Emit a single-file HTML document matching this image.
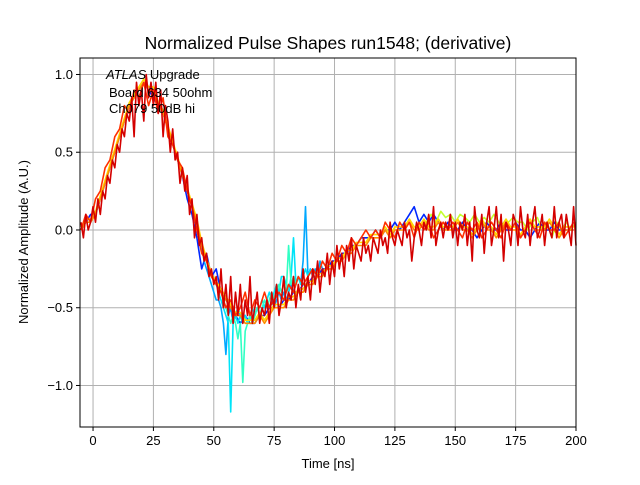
<!DOCTYPE html>
<html><head><meta charset="utf-8"><style>
body{margin:0;background:#fff}
svg{font-family:"Liberation Sans","DejaVu Sans",sans-serif}
</style></head><body>
<svg id="c" width="640" height="480">
<rect width="640" height="480" fill="#fff"/>
<text x="328" y="49" text-anchor="middle" font-size="17.5">Normalized Pulse Shapes run1548; (derivative)</text>
<text x="328" y="468" text-anchor="middle" font-size="13">Time [ns]</text>
<text transform="translate(28,242) rotate(-90)" text-anchor="middle" font-size="13">Normalized Amplitude (A.U.)</text>
<g id="grid"></g><g id="series"></g><g id="ticks"></g>
<rect x="80" y="58" width="496" height="369" fill="none" stroke="#000" stroke-width="1"/>
<g font-size="13">
<text x="106" y="79"><tspan font-style="italic">ATLAS</tspan> Upgrade</text>
<text x="109" y="97">Board 634 50ohm</text>
<text x="109" y="113">Ch079 50dB hi</text>
</g>
</svg>
<script>
const xTicks=[0,25,50,75,100,125,150,175,200];
const yTicks=[-1.0,-0.5,0.0,0.5,1.0];
const redX0=-5, redStep=1;
const redVals=[0.05,-0.05,0.1,0,0.05,0.15,0.05,0.2,0.1,0.25,0.2,0.35,0.3,0.45,0.4,0.55,0.5,0.65,0.6,0.75,0.7,0.85,0.6,0.95,0.8,0.9,0.7,1.0,0.85,0.95,0.8,0.95,0.75,0.9,0.6,0.8,0.7,0.5,0.65,0.45,0.5,0.3,0.4,0.25,0.35,0.1,0.2,-0.05,0.1,-0.1,-0.05,-0.2,-0.15,-0.3,-0.25,-0.35,-0.3,-0.45,-0.25,-0.5,-0.35,-0.55,-0.3,-0.6,-0.4,-0.55,-0.35,-0.6,-0.45,-0.55,-0.3,-0.6,-0.5,-0.4,-0.6,-0.5,-0.55,-0.45,-0.6,-0.4,-0.5,-0.35,-0.55,-0.45,-0.3,-0.5,-0.4,-0.45,-0.3,-0.5,-0.35,-0.45,-0.25,-0.4,-0.3,-0.45,-0.25,-0.35,-0.2,-0.4,-0.25,-0.3,-0.15,-0.35,-0.2,-0.3,-0.1,-0.25,-0.15,-0.3,-0.1,-0.2,-0.05,-0.25,-0.1,-0.15,-0.2,-0.05,-0.15,-0.1,-0.2,-0.05,-0.1,-0.15,0,-0.1,-0.05,-0.15,0.05,-0.05,-0.1,0,-0.05,-0.1,0.05,-0.05,0,-0.2,-0.05,0.05,0,-0.1,0.05,0,0.1,-0.05,0.15,-0.1,0,0.05,-0.05,0.05,0,0.1,-0.05,0.05,-0.1,0.05,0,0.1,-0.1,0.05,-0.2,0.15,0,-0.05,0.1,-0.15,0.05,0.15,-0.1,0,0.15,-0.05,0.1,-0.2,0.05,0,-0.1,0.1,0.05,-0.1,0.15,0,-0.05,0.1,-0.1,0.05,0.15,-0.05,0,0.1,-0.1,0.05,0,-0.05,0.15,-0.05,0.05,0.1,-0.05,0.1,0,-0.1,0.15,-0.1];
const orangeX0=-5, orangeStep=2;
const orangeVals=[0,0.05,0.05,0.1,0.2,0.3,0.4,0.5,0.6,0.7,0.8,0.85,0.9,0.95,0.9,0.9,0.8,0.75,0.65,0.55,0.45,0.35,0.25,0.15,0.05,-0.1,-0.2,-0.3,-0.35,-0.4,-0.45,-0.5,-0.55,-0.55,-0.6,-0.6,-0.6,-0.55,-0.6,-0.55,-0.5,-0.5,-0.5,-0.45,-0.45,-0.4,-0.4,-0.35,-0.35,-0.3,-0.3,-0.25,-0.25,-0.2,-0.2,-0.15,-0.15,-0.1,-0.1,-0.1,-0.05,-0.05,-0.05,0,-0.05,0,0,0,0.05,0,0,0.05,0,0,0.05,0,0,0,0.05,0,0,-0.05,0,0.05,0,0,-0.05,0,0.05,0,0,-0.05,0,0.05,0,0,0,0.05,0,-0.05,0,0,0];
const redOrangeX0=-5, redOrangeStep=2;
const redOrangeVals=[0,0.1,0.05,0.2,0.25,0.4,0.45,0.6,0.65,0.8,0.75,0.9,0.85,0.95,0.8,0.9,0.75,0.85,0.6,0.55,0.45,0.4,0.25,0.15,0,-0.15,-0.2,-0.3,-0.35,-0.4,-0.5,-0.45,-0.55,-0.5,-0.4,-0.55,-0.45,-0.5,-0.4,-0.5,-0.45,-0.4,-0.45,-0.35,-0.4,-0.3,-0.35,-0.3,-0.25,-0.3,-0.2,-0.25,-0.15,-0.2,-0.1,-0.15,-0.05,-0.1,-0.05,0,-0.05,0,-0.05,0.05,0,-0.05,0.05,0,0.05,-0.05,0.05,0,0.05,-0.05,0,0.05,0,0.05,0,-0.05,0.05,0,0.05,-0.05,0,0.05,0,-0.05,0.05,0,0.05,-0.05,0,0.05,0,-0.05,0.05,0,0,0.05,-0.05,0,0.05];
const blueX0=-5, blueStep=2;
const blueVals=[0,0.05,0.1,0.1,0.2,0.3,0.4,0.5,0.6,0.7,0.8,0.85,0.9,0.95,0.9,0.85,0.8,0.75,0.65,0.55,0.45,0.35,0.2,0.1,-0.05,-0.25,-0.15,-0.3,-0.25,-0.4,-0.45,-0.5,-0.55,-0.6,-0.55,-0.6,-0.6,-0.55,-0.55,-0.5,-0.5,-0.5,-0.45,-0.45,-0.4,-0.4,-0.35,-0.35,-0.3,-0.3,-0.25,-0.25,-0.2,-0.2,-0.15,-0.15,-0.1,-0.1,-0.05,-0.05,-0.05,0,-0.05,0,0,0.05,0,0.05,0.1,0.15,0.05,0.1,0.05,0.1,0.05,0,0.05,0,0,0.05,0,0,-0.05,0,0.05,0,0,0.05,0,0,0.05,0,0,-0.05,0,0.05,0,0,0.05,0,0,0,0];
const lightBlueX0=44, lightBlueStep=1;
const lightBlueVals=[-0.05,-0.1,-0.2,-0.25,-0.3,-0.35,-0.4,-0.45,-0.45,-0.5,-0.6,-0.8,-0.55,-0.5,-0.6,-0.55,-0.5,-0.55,-0.6,-0.55,-0.6,-0.55,-0.6,-0.55,-0.5,-0.55,-0.5,-0.5,-0.45,-0.5,-0.45,-0.5,-0.45,-0.4,-0.45,-0.4,-0.45,-0.4,-0.35,-0.4,-0.35,-0.3,-0.35,-0.2,0.15,-0.3,-0.25,-0.3,-0.25,-0.3,-0.2,-0.25];
const cyanX0=50, cyanStep=1;
const cyanVals=[-0.3,-0.35,-0.4,-0.45,-0.5,-0.55,-0.6,-1.17,-0.6,-0.55,-0.6,-0.55,-0.6,-0.55,-0.6,-0.55,-0.5,-0.55,-0.5,-0.5,-0.45,-0.5,-0.45,-0.4,-0.45,-0.4,-0.35,-0.4,-0.3,-0.3,-0.35,-0.4,-0.3,-0.05,-0.35,-0.3,-0.35,-0.3,-0.25,-0.3,-0.25];
const aquaX0=52, aquaStep=1;
const aquaVals=[-0.35,-0.4,-0.45,-0.5,-0.55,-0.6,-0.55,-0.6,-0.7,-0.6,-0.98,-0.65,-0.6,-0.55,-0.6,-0.55,-0.5,-0.55,-0.5,-0.45,-0.5,-0.45,-0.4,-0.45,-0.4,-0.35,-0.4,-0.35,-0.4,-0.1,-0.35,-0.3,-0.35,-0.3];
const greenX0=138, greenStep=2;
const greenVals=[0.05,0.1,0.05,0.12,0.08,0.1,0.05,0.1,0.08,0.05,0.1,0.05,0.08,0.05,0.1,0.05,0,0.05,0.08,0.05,0.05,0,0.05,0.08,0,0.05,-0.05,0.05,0,0.05,0,0.05];

const X0=80,X1=576,Y0=58,Y1=427;
const xmin=-5.4,xmax=200,ymin=-1.267,ymax=1.106;
const sx=v=>X0+(v-xmin)/(xmax-xmin)*(X1-X0);
const sy=v=>Y1-(v-ymin)/(ymax-ymin)*(Y1-Y0);
const NS="http://www.w3.org/2000/svg";
const grid=document.getElementById('grid'),ticks=document.getElementById('ticks'),ser=document.getElementById('series');
function mk(tag,attrs,parent){const e=document.createElementNS(NS,tag);for(const k in attrs)e.setAttribute(k,attrs[k]);parent.appendChild(e);return e;}
xTicks.forEach(t=>{
  const gl=mk('line',{x1:sx(t),x2:sx(t),y1:Y0,y2:Y1,stroke:'#b0b0b0','stroke-width':1},grid);
  
  
  const tk=mk('line',{x1:sx(t),x2:sx(t),y1:Y1,y2:Y1+4,stroke:'#000'},ticks);
  
  
  const tl=mk('text',{x:sx(t),y:Y1+18,'text-anchor':'middle','font-size':13},ticks);
  tl.textContent=t;
  
  
});
yTicks.forEach(t=>{
  const gl=mk('line',{x1:X0,x2:X1,y1:sy(t),y2:sy(t),stroke:'#b0b0b0','stroke-width':1},grid);
  
  
  const tk=mk('line',{x1:X0-4,x2:X0,y1:sy(t),y2:sy(t),stroke:'#000'},ticks);
  
  
  const tl=mk('text',{x:X0-7,y:sy(t)+4.5,'text-anchor':'end','font-size':13},ticks);
  tl.textContent=(t<0?'\u2212':'')+Math.abs(t).toFixed(1);
  
  
});
function line(x0,step,vals,color,name){
  const pts=vals.map((v,i)=>{const x=Math.max(xmin,Math.min(xmax,x0+i*step));return sx(x).toFixed(1)+','+sy(v).toFixed(1);}).join(' ');
  const p=mk('polyline',{points:pts,fill:'none',stroke:color,'stroke-width':1.6,'stroke-linejoin':'round'},ser);
  
  
}
line(blueX0,blueStep,blueVals,'#0028ff','series-blue');
line(lightBlueX0,lightBlueStep,lightBlueVals,'#00a8ff','series-light-blue');
line(cyanX0,cyanStep,cyanVals,'#00e4f8','series-cyan');
line(aquaX0,aquaStep,aquaVals,'#30ffc4','series-aqua');
line(greenX0,greenStep,greenVals,'#c4ff30','series-yellow-green');
line(orangeX0,orangeStep,orangeVals.map(v=>v+0.02),'#ffd800','series-yellow');
line(orangeX0,orangeStep,orangeVals,'#ff8c00','series-orange');
line(redOrangeX0,redOrangeStep,redOrangeVals,'#ff3000','series-red-orange');
line(redX0,redStep,redVals,'#d40000','series-red');
</script>
</body></html>
